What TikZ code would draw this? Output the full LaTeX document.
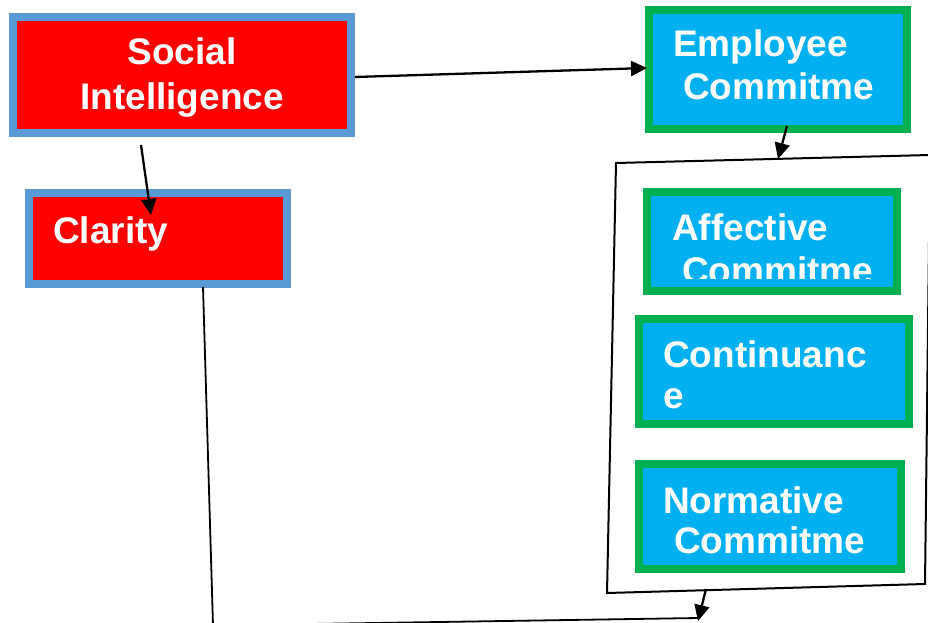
\documentclass[tikz,border=0pt]{standalone}
\usepackage{fontspec}
\setmainfont{Liberation Sans}
\usetikzlibrary{arrows.meta}
\definecolor{boxred}{HTML}{FF0000}
\definecolor{edgeblue}{HTML}{5B9BD5}
\definecolor{boxcyan}{HTML}{00B0F0}
\definecolor{edgegreen}{HTML}{00B050}
\begin{document}
\begin{tikzpicture}[x=1pt,y=-1pt,
  redbox/.style={draw=edgeblue, fill=boxred, line width=8pt, rectangle, inner sep=0pt},
  cyanbox/.style={draw=edgegreen, fill=boxcyan, line width=8pt, rectangle, inner sep=0pt},
  label/.style={anchor=base west, inner sep=0pt, text=white,
    font=\fontsize{37}{43}\selectfont\bfseries},
  conn/.style={draw=black, line width=2.3pt},
  arr/.style={conn, -{Triangle[length=16pt,width=15pt]}},
  frame/.style={draw=black, line width=2pt, line join=miter}]
\useasboundingbox (0,0) rectangle (928,623);
\clip (0,0) rectangle (928,623);

% boxes
\node[redbox, minimum width=338pt, minimum height=116pt] (si) at (182,75) {};
\node[redbox, minimum width=258pt, minimum height=91pt] (cl) at (158,238.5) {};
\node[cyanbox, minimum width=258pt, minimum height=119pt] (ec) at (778,69.5) {};
\node[cyanbox, minimum width=250pt, minimum height=99pt] (ac) at (772,241.5) {};
\node[cyanbox, minimum width=270pt, minimum height=105pt] (cc) at (774,371.5) {};
\node[cyanbox, minimum width=262pt, minimum height=105pt] (nc) at (770,516.5) {};

% texts
\node[label, anchor=base] (t1) at (182,65) {Social};
\node[label, anchor=base] (t2) at (182,110) {Intelligence};
\node[label] (t3) at (53,243) {Clarity};
\node[label] (t4) at (673,57) {Employee};
\node[label] (t5) at (683,100) {Commitme};
\begin{scope}
  \clip (651,196) rectangle (893,278);
  \node[label] (t6) at (672,240) {Affective};
  \node[label] (t7) at (682,283) {Commitme};
\end{scope}
\node[label] (t8) at (663,367) {Continuanc};
\node[label] (t9) at (663,408) {e};
\node[label] (t10) at (663,513) {Normative};
\node[label] (t11) at (674,553) {Commitme};

% surrounding frame of the three components
\coordinate (ftl) at (616,163);
\coordinate (ftr) at (930,155);
\coordinate (fbl) at (607,593);
\coordinate (fbr) at (925,584);
\draw[frame] (ftr) -- (ftl) -- (fbl) -- (fbr) -- (ftr);

% connector endpoints
\coordinate (a1s) at (355,77);
\coordinate (a1e) at (647,68);
\coordinate (a2s) at (141,145);
\coordinate (a2e) at (151,215);
\coordinate (a3s) at (787,126);
\coordinate (a3e) at (778,159);
\coordinate (a4s) at (706,589);
\coordinate (a4e) at (698,621);
\coordinate (c1) at (203,287);
\coordinate (c2) at (213,625.5);
\coordinate (c3) at (698,618);

\draw[arr] (a1s) -- (a1e);
\draw[arr] (a2s) -- (a2e);
\draw[arr] (a3s) -- (a3e);
\draw[conn, line width=1.8pt] (c1) -- (c2) -- (c3);
\draw[arr] (a4s) -- (a4e);
\end{tikzpicture}
\end{document}
